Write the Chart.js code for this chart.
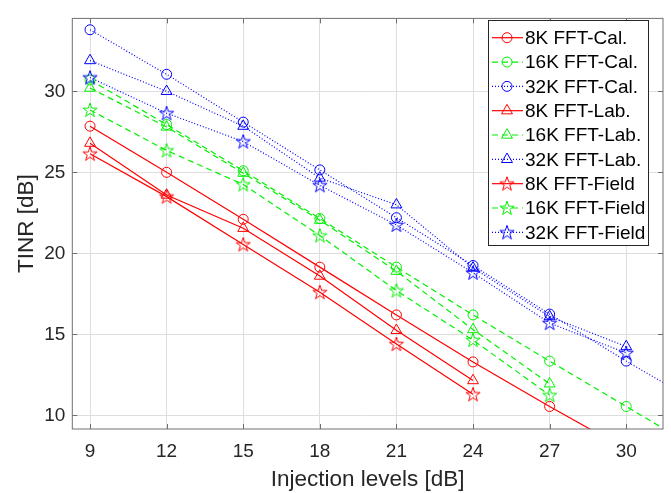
<!DOCTYPE html>
<html>
<head>
<meta charset="utf-8">
<script src="https://cdn.jsdelivr.net/npm/chart.js@4/dist/chart.umd.min.js"></script>
<style>
  html, body { margin: 0; padding: 0; background: #fff; }
</style>
</head>
<body>
<canvas id="chart" width="671" height="493"></canvas>
<script>
// Injection levels (x) and TINR values
const levels = [9, 12, 15, 18, 21, 24, 27, 30, 33];
const xTicks = [9, 12, 15, 18, 21, 24, 27, 30];
const yTicks = [10, 15, 20, 25, 30];

const cal8 = [27.85, 25.0, 22.1, 19.15, 16.2, 13.3, 10.55, 7.9, null];
const cal16 = [30.7, 27.95, 25.1, 22.15, 19.15, 16.2, 13.35, 10.55, 7.75];
const cal32 = [33.8, 31.05, 28.1, 25.15, 22.2, 19.25, 16.25, 13.35, 10.6];
const lab8 = [26.8, 23.6, 21.55, 18.6, 15.25, 12.15, null, null, null];
const lab16 = [30.2, 27.8, 24.95, 22.05, 18.9, 15.3, 11.95, null, null];
const lab32 = [31.9, 30.0, 27.85, 24.65, 23.0, 19.1, 16.1, 14.25, null];
const fld8 = [26.15, 23.5, 20.55, 17.6, 14.4, 11.3, null, null, null];
const fld16 = [28.85, 26.35, 24.25, 21.1, 17.7, 14.65, 11.25, null, null];
const fld32 = [30.85, 28.65, 26.9, 24.2, 21.75, 18.8, 15.7, 13.85, null];

const RED = "#ff0000", GREEN = "#00f000", BLUE = "#0000ff";
const SOLID = [], DASHED = [6, 4], DOTTED = [1, 2];

// pentagram marker like MATLAB 'p'
function makeStar(color) {
  const c = document.createElement("canvas");
  c.width = 20;
  c.height = 20;
  const g = c.getContext("2d");
  g.strokeStyle = color;
  g.lineWidth = 1;
  g.beginPath();
  for (let k = 0; k < 10; k++) {
    const r = k % 2 ? 2.9 : 7.5;
    const a = -Math.PI / 2 + (k * Math.PI) / 5;
    const px = 10 + r * Math.cos(a);
    const py = 10.5 + r * Math.sin(a);
    if (k === 0) g.moveTo(px, py);
    else g.lineTo(px, py);
  }
  g.closePath();
  g.stroke();
  return c;
}

function series(label, values, color, dash, marker) {
  const pts = [];
  values.forEach(function (v, i) {
    if (v !== null) pts.push({ x: levels[i], y: v });
  });
  let style = marker, radius = 5;
  if (marker === "triangle") radius = 6.3;
  if (marker === "star") style = makeStar(color);
  return {
    label: label,
    data: pts,
    borderColor: color,
    borderWidth: 1.2,
    borderDash: dash,
    backgroundColor: "rgba(0,0,0,0)",
    pointStyle: style,
    pointRadius: radius,
    pointBorderWidth: 1,
    pointBorderColor: color,
    pointBackgroundColor: "rgba(0,0,0,0)",
    tension: 0,
    fill: false,
    markerKind: marker,
  };
}

const datasets = [
  series("8K FFT-Cal.", cal8, RED, SOLID, "circle"),
  series("16K FFT-Cal.", cal16, GREEN, DASHED, "circle"),
  series("32K FFT-Cal.", cal32, BLUE, DOTTED, "circle"),
  series("8K FFT-Lab.", lab8, RED, SOLID, "triangle"),
  series("16K FFT-Lab.", lab16, GREEN, DASHED, "triangle"),
  series("32K FFT-Lab.", lab32, BLUE, DOTTED, "triangle"),
  series("8K FFT-Field", fld8, RED, SOLID, "star"),
  series("16K FFT-Field", fld16, GREEN, DASHED, "star"),
  series("32K FFT-Field", fld32, BLUE, DOTTED, "star"),
];
// later series drawn on top, like MATLAB
datasets.forEach(function (d, i) {
  d.order = datasets.length - 1 - i;
});

// box around the axes with inward tick marks
const boxPlugin = {
  id: "box",
  afterDatasetsDraw: function (chart) {
    const ctx = chart.ctx;
    const a = chart.chartArea;
    const xs = chart.scales.x, ys = chart.scales.y;
    ctx.save();
    ctx.strokeStyle = "#707070";
    ctx.lineWidth = 1;
    ctx.strokeRect(a.left, a.top, a.right - a.left, a.bottom - a.top);
    ctx.beginPath();
    xTicks.forEach(function (t) {
      const px = Math.round(xs.getPixelForValue(t)) + 0.5;
      ctx.moveTo(px, a.bottom);
      ctx.lineTo(px, a.bottom - 5);
      ctx.moveTo(px, a.top);
      ctx.lineTo(px, a.top + 5);
    });
    yTicks.forEach(function (t) {
      const py = Math.round(ys.getPixelForValue(t)) + 0.5;
      ctx.moveTo(a.left, py);
      ctx.lineTo(a.left + 5, py);
      ctx.moveTo(a.right, py);
      ctx.lineTo(a.right - 5, py);
    });
    ctx.stroke();
    ctx.restore();
  },
};

// MATLAB-style legend box in the upper right
const legendPlugin = {
  id: "matlabLegend",
  afterDraw: function (chart) {
    const ctx = chart.ctx;
    const left = 488.5, top = 20.5, right = 648.5, bottom = 245.5;
    ctx.save();
    ctx.fillStyle = "#ffffff";
    ctx.fillRect(left, top, right - left, bottom - top);
    ctx.strokeStyle = "#262626";
    ctx.lineWidth = 1;
    ctx.strokeRect(left, top, right - left, bottom - top);
    chart.data.datasets.forEach(function (d, k) {
      const y = 37.7 + k * 24.33;
      const mx = 507;
      ctx.strokeStyle = d.borderColor;
      ctx.lineWidth = d.borderWidth;
      ctx.setLineDash(d.borderDash);
      ctx.beginPath();
      ctx.moveTo(492, y);
      ctx.lineTo(523, y);
      ctx.stroke();
      ctx.setLineDash([]);
      ctx.lineWidth = 1;
      if (d.markerKind === "circle") {
        ctx.beginPath();
        ctx.arc(mx, y, 5, 0, Math.PI * 2);
        ctx.stroke();
      } else if (d.markerKind === "triangle") {
        const r = 6.3;
        ctx.beginPath();
        for (let j = 0; j < 3; j++) {
          const ang = (j * 2 * Math.PI) / 3;
          const px = mx + Math.sin(ang) * r, py = y - Math.cos(ang) * r;
          if (j === 0) ctx.moveTo(px, py);
          else ctx.lineTo(px, py);
        }
        ctx.closePath();
        ctx.stroke();
      } else {
        const img = d.pointStyle;
        ctx.drawImage(img, mx - img.width / 2, y - img.height / 2);
      }
      ctx.fillStyle = "#000000";
      ctx.font = "19px 'Liberation Sans', Arial, sans-serif";
      ctx.textBaseline = "middle";
      ctx.textAlign = "left";
      ctx.fillText(d.label, 525, y + 1);
    });
    ctx.restore();
  },
};

Chart.defaults.font.family = "'Liberation Sans', Arial, sans-serif";
Chart.defaults.color = "#262626";

new Chart(document.getElementById("chart").getContext("2d"), {
  type: "line",
  data: { datasets: datasets },
  options: {
    responsive: false,
    animation: false,
    devicePixelRatio: 1,
    layout: { padding: { top: 7.5, right: 8, left: 0, bottom: 0 } },
    scales: {
      x: {
        type: "linear",
        min: 8.306,
        max: 31.44,
        afterBuildTicks: function (scale) {
          scale.ticks = xTicks.map(function (v) { return { value: v }; });
        },
        afterFit: function (scale) {
          scale.height = 64;
        },
        ticks: { font: { size: 19 }, padding: 11, maxRotation: 0, color: "#262626" },
        grid: { color: "#dedede", drawTicks: false },
        border: { display: false },
        title: {
          display: true,
          text: "Injection levels [dB]",
          font: { size: 22.5 },
          color: "#262626",
          padding: { top: 0, bottom: 0 },
        },
      },
      y: {
        type: "linear",
        min: 9.16,
        max: 34.5,
        afterBuildTicks: function (scale) {
          scale.ticks = yTicks.map(function (v) { return { value: v }; });
        },
        afterFit: function (scale) {
          scale.width = 72.3;
        },
        ticks: { font: { size: 19 }, padding: 7, color: "#262626" },
        grid: { color: "#dedede", drawTicks: false },
        border: { display: false },
        title: {
          display: true,
          text: "TINR [dB]",
          font: { size: 22.5 },
          color: "#262626",
          padding: { top: 13, bottom: 0 },
        },
      },
    },
    plugins: {
      legend: { display: false },
      tooltip: { enabled: false },
    },
  },
  plugins: [boxPlugin, legendPlugin],
});
</script>
</body>
</html>
